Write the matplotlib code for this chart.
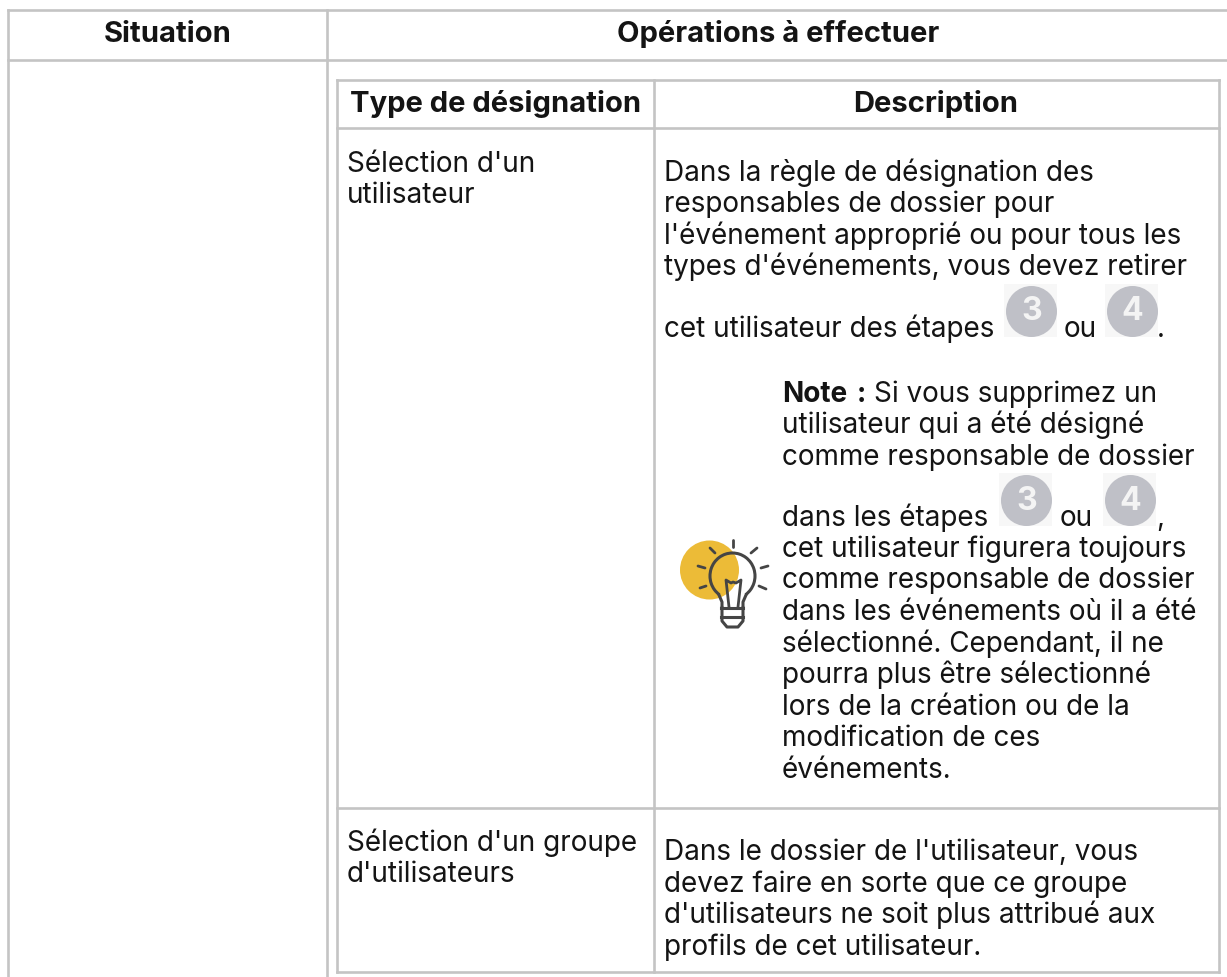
import numpy as np
import matplotlib
matplotlib.use('Agg')
import matplotlib.pyplot as plt
from matplotlib.patches import Circle, Rectangle, Arc

plt.rcParams['font.family'] = ['Inter', 'DejaVu Sans']

# table text
outer_headers = ['Situation', 'Opérations à effectuer']
inner_headers = ['Type de désignation', 'Description']
type_user = ["Sélection d'un", 'utilisateur']
type_group = ["Sélection d'un groupe", "d'utilisateurs"]
desc_user = ['Dans la règle de désignation des', 'responsables de dossier pour',
             "l'événement approprié ou pour tous les", "types d'événements, vous devez retirer"]
desc_steps = ['cet utilisateur des étapes', 'ou', '.']
note_head = ['Note', ':', 'Si vous supprimez un']
note_top = ['utilisateur qui a été désigné', 'comme responsable de dossier']
note_steps = ['dans les étapes', 'ou', ',']
note_rest = ['cet utilisateur figurera toujours', 'comme responsable de dossier',
             'dans les événements où il a été', 'sélectionné. Cependant, il ne',
             'pourra plus être sélectionné', 'lors de la création ou de la',
             'modification de ces', 'événements.']
desc_group = ["Dans le dossier de l'utilisateur, vous", 'devez faire en sorte que ce groupe',
              "d'utilisateurs ne soit plus attribué aux", 'profils de cet utilisateur.']

W, H = 1227, 977
BORDER = '#c4c4c4'
INK = '#141414'
SIZE = 20.1
HEAD = 21

fig = plt.figure(figsize=(W / 100, H / 100), dpi=100)
ax = fig.add_axes([0, 0, 1, 1])
ax.set_xlim(0, W)
ax.set_ylim(H, 0)
ax.axis('off')


def line(x0, y0, x1, y1):
    ax.plot([x0, x1], [y0, y1], color=BORDER, lw=1.9, solid_capstyle='projecting')


def txt(x, y, s, weight='normal', ha='left', size=SIZE):
    ax.text(x, y, s, fontsize=size, fontweight=weight, ha=ha, va='baseline', color=INK)


def block(x, ys, lines):
    for y, s in zip(ys, lines):
        txt(x, y, s)


def badge(x0, y0, size, digit):
    ax.add_patch(Rectangle((x0, y0), size, size, fc='#f7f7f7', ec='none'))
    cx, cy = x0 + size / 2 + 1, y0 + size / 2 + 1
    ax.add_patch(Circle((cx, cy), size / 2 - 1, fc='#bfc0c7', ec='none'))
    ax.text(cx, cy + 9, digit, color='#f4f4f4', fontsize=23, fontweight='bold', ha='center', va='baseline')


# outer table
line(8, 10, W, 10)
line(8, 59.5, W, 59.5)
line(8, 10, 8, H)
line(326.5, 10, 326.5, H)

# inner table
line(337, 79.5, 1219, 79.5)
line(337, 127.5, 1219, 127.5)
line(337, 808, 1219, 808)
line(337, 972, 1219, 972)
line(337, 79.5, 337, 972)
line(654, 79.5, 654, 972)
line(1219, 79.5, 1219, 972)

txt(168, 42, outer_headers[0], 'bold', 'center', HEAD)
txt(778, 42, outer_headers[1], 'bold', 'center', HEAD)
txt(496, 112, inner_headers[0], 'bold', 'center', HEAD)
txt(936, 112, inner_headers[1], 'bold', 'center', HEAD)

block(347, [172, 203], type_user)
block(347, [851, 882], type_group)
block(664, [181, 212, 244, 275], desc_user)

txt(664, 337, desc_steps[0])
badge(1004, 284, 53, '3')
txt(1064, 337, desc_steps[1])
badge(1105, 284, 53, '4')
txt(1157, 337, desc_steps[2])

txt(782, 402, note_head[0], 'bold')
txt(857, 402, note_head[1], 'bold')
txt(874, 402, note_head[2])
block(782, [433, 465], note_top)

txt(782, 526, note_steps[0])
badge(999, 473, 53, '3')
txt(1060, 526, note_steps[1])
badge(1103, 473, 53, '4')
txt(1156, 526, note_steps[2])

block(782, [557, 588, 620, 652, 683, 715, 746, 778], note_rest)
block(664, [860, 892, 923, 955], desc_group)

# light bulb icon
BULB = '#454545'
ax.add_patch(Circle((709.5, 570), 29.5, fc='#ecbb37', ec='none'))
ax.add_patch(Arc((732.5, 576), 45, 46, theta1=125, theta2=415, ec=BULB, lw=2.2))
ax.plot([719, 722, 722], [595, 602, 608], color=BULB, lw=2.2)
ax.plot([746, 743, 743], [595, 602, 608], color=BULB, lw=2.2)
ax.plot([729, 726, 731, 733, 736, 741, 738], [607, 580, 583, 582, 583, 580, 607], color=BULB, lw=2)
for yy in [608, 617]:
    ax.plot([721, 743], [yy, yy], color=BULB, lw=2.2)
ax.plot([722, 722, 727, 738, 743, 743], [608, 621, 627, 627, 621, 608], color=BULB, lw=2.2)
rays_x = [[733, 733], [751, 757], [761, 768], [759, 766], [710, 715], [698, 705], [700, 706]]
rays_y = [[540, 547], [553, 548], [568, 566], [586, 589], [548, 553], [566, 568], [588, 586]]
for rx, ry in zip(rays_x, rays_y):
    ax.plot(rx, ry, color=BULB, lw=2, solid_capstyle='round')

fig.savefig('out.png', dpi=100)
